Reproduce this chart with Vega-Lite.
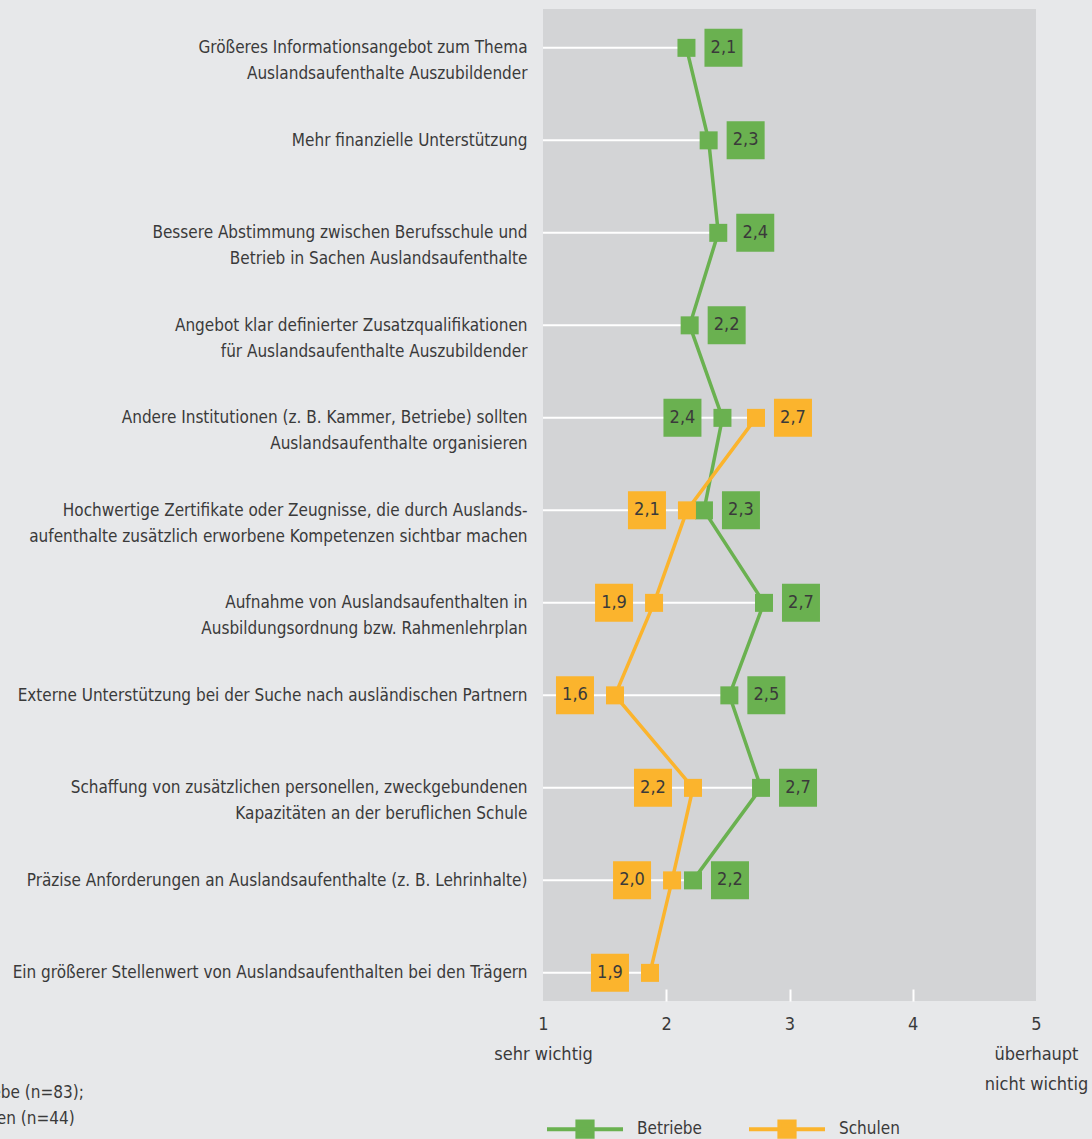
{
  "$schema": "https://vega.github.io/schema/vega-lite/v6.json",
  "width": 493,
  "height": 992,
  "autosize": "none",
  "padding": {"left": 543, "top": 9, "right": 56, "bottom": 138},
  "background": "#e7e8ea",
  "config": {
    "view": {"fill": "#d3d4d6", "stroke": null},
    "font": "DejaVu Sans Condensed, sans-serif"
  },
  "title": {
    "text": ["Betriebe (n=83);", "Schulen (n=44)"],
    "orient": "top",
    "anchor": "start",
    "frame": "group",
    "baseline": "top",
    "offset": 0,
    "dx": -588,
    "dy": 1119,
    "fontSize": 17,
    "fontWeight": "normal",
    "color": "#3a3a3a",
    "lineHeight": 26
  },
  "datasets": {
    "rows": [
      {"cat": "Größeres Informationsangebot zum Thema|Auslandsaufenthalte Auszubildender", "group": "Betriebe", "value": 2.164, "label": "2,1"},
      {"cat": "Mehr finanzielle Unterstützung", "group": "Betriebe", "value": 2.344, "label": "2,3"},
      {"cat": "Bessere Abstimmung zwischen Berufsschule und|Betrieb in Sachen Auslandsaufenthalte", "group": "Betriebe", "value": 2.422, "label": "2,4"},
      {"cat": "Angebot klar definierter Zusatzqualifikationen|für Auslandsaufenthalte Auszubildender", "group": "Betriebe", "value": 2.19, "label": "2,2"},
      {"cat": "Andere Institutionen (z. B. Kammer, Betriebe) sollten|Auslandsaufenthalte organisieren", "group": "Betriebe", "value": 2.456, "label": "2,4"},
      {"cat": "Andere Institutionen (z. B. Kammer, Betriebe) sollten|Auslandsaufenthalte organisieren", "group": "Schulen", "value": 2.728, "label": "2,7"},
      {"cat": "Hochwertige Zertifikate oder Zeugnisse, die durch Auslands-|aufenthalte zusätzlich erworbene Kompetenzen sichtbar machen", "group": "Betriebe", "value": 2.306, "label": "2,3"},
      {"cat": "Hochwertige Zertifikate oder Zeugnisse, die durch Auslands-|aufenthalte zusätzlich erworbene Kompetenzen sichtbar machen", "group": "Schulen", "value": 2.168, "label": "2,1"},
      {"cat": "Aufnahme von Auslandsaufenthalten in|Ausbildungsordnung bzw. Rahmenlehrplan", "group": "Betriebe", "value": 2.793, "label": "2,7"},
      {"cat": "Aufnahme von Auslandsaufenthalten in|Ausbildungsordnung bzw. Rahmenlehrplan", "group": "Schulen", "value": 1.901, "label": "1,9"},
      {"cat": "Externe Unterstützung bei der Suche nach ausländischen Partnern", "group": "Betriebe", "value": 2.512, "label": "2,5"},
      {"cat": "Externe Unterstützung bei der Suche nach ausländischen Partnern", "group": "Schulen", "value": 1.584, "label": "1,6"},
      {"cat": "Schaffung von zusätzlichen personellen, zweckgebundenen|Kapazitäten an der beruflichen Schule", "group": "Betriebe", "value": 2.769, "label": "2,7"},
      {"cat": "Schaffung von zusätzlichen personellen, zweckgebundenen|Kapazitäten an der beruflichen Schule", "group": "Schulen", "value": 2.217, "label": "2,2"},
      {"cat": "Präzise Anforderungen an Auslandsaufenthalte (z. B. Lehrinhalte)", "group": "Betriebe", "value": 2.217, "label": "2,2"},
      {"cat": "Präzise Anforderungen an Auslandsaufenthalte (z. B. Lehrinhalte)", "group": "Schulen", "value": 2.047, "label": "2,0"},
      {"cat": "Ein größerer Stellenwert von Auslandsaufenthalten bei den Trägern", "group": "Schulen", "value": 1.868, "label": "1,9"}
    ]
  },
  "data": {"name": "rows"},
  "transform": [
    {"joinaggregate": [{"op": "max", "field": "value", "as": "maxv"}, {"op": "count", "as": "n"}], "groupby": ["cat"]},
    {"calculate": "datum.n == 1 ? (datum.group == 'Betriebe' ? 1 : -1) : (datum.value == datum.maxv ? 1 : -1)", "as": "side"}
  ],
  "encoding": {
    "y": {
      "field": "cat",
      "type": "ordinal",
      "sort": [
        "Größeres Informationsangebot zum Thema|Auslandsaufenthalte Auszubildender",
        "Mehr finanzielle Unterstützung",
        "Bessere Abstimmung zwischen Berufsschule und|Betrieb in Sachen Auslandsaufenthalte",
        "Angebot klar definierter Zusatzqualifikationen|für Auslandsaufenthalte Auszubildender",
        "Andere Institutionen (z. B. Kammer, Betriebe) sollten|Auslandsaufenthalte organisieren",
        "Hochwertige Zertifikate oder Zeugnisse, die durch Auslands-|aufenthalte zusätzlich erworbene Kompetenzen sichtbar machen",
        "Aufnahme von Auslandsaufenthalten in|Ausbildungsordnung bzw. Rahmenlehrplan",
        "Externe Unterstützung bei der Suche nach ausländischen Partnern",
        "Schaffung von zusätzlichen personellen, zweckgebundenen|Kapazitäten an der beruflichen Schule",
        "Präzise Anforderungen an Auslandsaufenthalte (z. B. Lehrinhalte)",
        "Ein größerer Stellenwert von Auslandsaufenthalten bei den Trägern"
      ],
      "scale": {"type": "point", "padding": 0.362, "align": 0.58},
      "axis": {
        "title": null,
        "labelExpr": "split(datum.label, '|')",
        "labelFontSize": 17,
        "labelLineHeight": 26,
        "labelColor": "#3a3a3a",
        "labelLimit": 600,
        "labelPadding": 16,
        "ticks": false,
        "domain": false,
        "grid": false,
        "labelAlign": "right",
        "labelBaseline": "middle"
      }
    }
  },
  "layer": [
    {
      "transform": [{"filter": "datum.value == datum.maxv"}],
      "mark": {"type": "rule", "color": "#ffffff", "strokeWidth": 2},
      "encoding": {
        "x": {"field": "value", "type": "quantitative"},
        "x2": {"datum": 1}
      }
    },
    {
      "mark": {"type": "line", "strokeWidth": 3.5},
      "encoding": {
        "x": {
          "field": "value",
          "type": "quantitative",
          "scale": {"domain": [1, 5], "nice": false, "zero": false},
          "axis": {
            "title": null,
            "values": [1, 2, 3, 4, 5],
            "grid": false,
            "domain": false,
            "ticks": true,
            "tickColor": "#ffffff",
            "tickSize": -12,
            "tickWidth": 2,
            "tickOpacity": {"condition": {"test": "datum.value == 1 || datum.value == 5", "value": 0}, "value": 1},
            "labelFontSize": 18,
            "labelColor": "#3a3a3a",
            "labelPadding": 26,
            "labelExpr": "datum.value == 1 ? ['1', 'sehr wichtig'] : datum.value == 5 ? ['5', 'überhaupt', 'nicht wichtig'] : format(datum.value, 'd')",
            "labelLineHeight": 30,
            "labelOverlap": false,
            "labelFlush": false,
            "labelBound": false
          }
        },
        "color": {
          "field": "group",
          "type": "nominal",
          "scale": {"domain": ["Betriebe", "Schulen"], "range": ["#6ab150", "#fbb42d"]},
          "legend": {
            "orient": "none",
            "legendX": 2,
            "legendY": 1080,
            "direction": "horizontal",
            "title": null,
            "padding": 0,
            "symbolType": "M-1,0H1M-0.2,-0.2H0.2V0.2H-0.2Z",
            "symbolSize": 5776,
            "symbolStrokeWidth": 4,
            "symbolOpacity": 1,
            "labelFontSize": 17,
            "labelColor": "#3a3a3a",
            "labelOffset": 12,
            "columnPadding": 39
          }
        }
      }
    },
    {
      "mark": {"type": "point", "shape": "square", "filled": true, "opacity": 1, "size": 324},
      "encoding": {
        "x": {"field": "value", "type": "quantitative"},
        "color": {"field": "group", "type": "nominal"}
      }
    },
    {
      "transform": [{"filter": "datum.side == 1"}],
      "mark": {"type": "point", "shape": "square", "filled": true, "opacity": 1, "size": 1444, "xOffset": 37},
      "encoding": {
        "x": {"field": "value", "type": "quantitative"},
        "color": {"field": "group", "type": "nominal"}
      }
    },
    {
      "transform": [{"filter": "datum.side == 1"}],
      "mark": {"type": "text", "fontSize": 18, "color": "#3a3a3a", "align": "center", "baseline": "middle", "xOffset": 37},
      "encoding": {
        "x": {"field": "value", "type": "quantitative"},
        "text": {"field": "label"}
      }
    },
    {
      "transform": [{"filter": "datum.side == -1"}],
      "mark": {"type": "point", "shape": "square", "filled": true, "opacity": 1, "size": 1444, "xOffset": -40},
      "encoding": {
        "x": {"field": "value", "type": "quantitative"},
        "color": {"field": "group", "type": "nominal"}
      }
    },
    {
      "transform": [{"filter": "datum.side == -1"}],
      "mark": {"type": "text", "fontSize": 18, "color": "#3a3a3a", "align": "center", "baseline": "middle", "xOffset": -40},
      "encoding": {
        "x": {"field": "value", "type": "quantitative"},
        "text": {"field": "label"}
      }
    }
  ]
}
